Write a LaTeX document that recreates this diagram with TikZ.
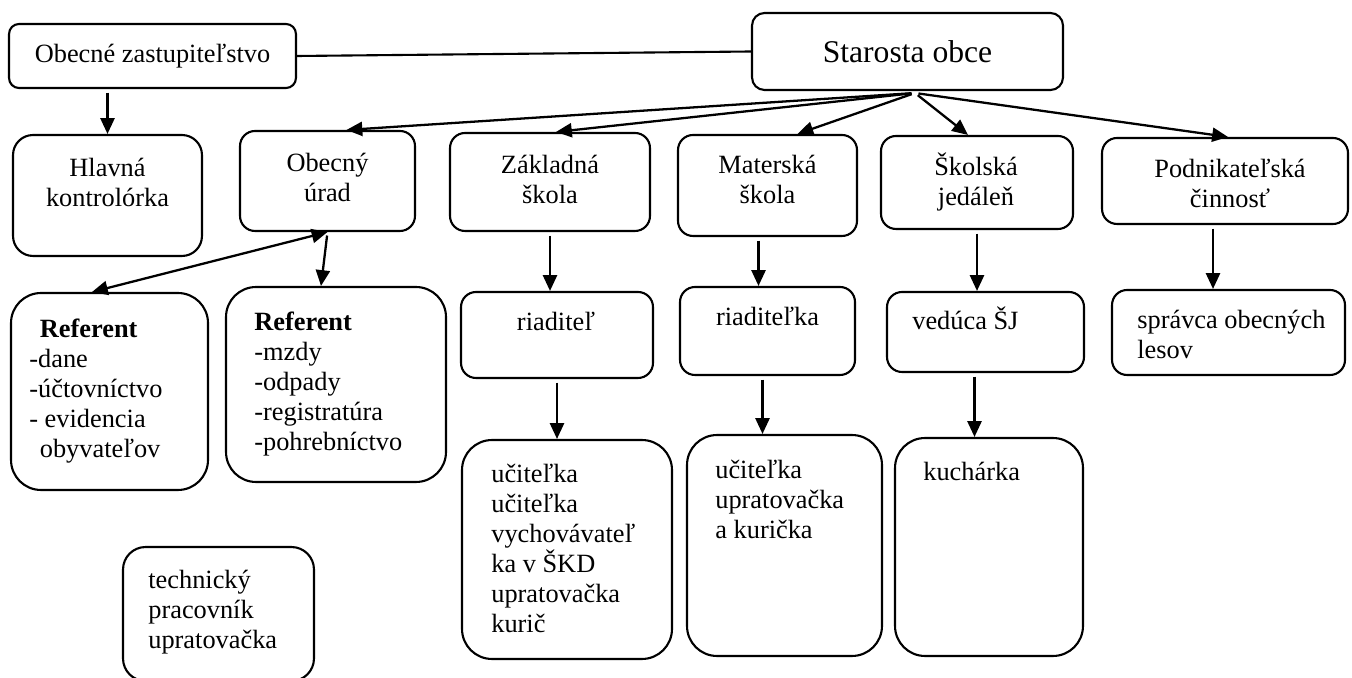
\documentclass[tikz,border=0pt]{standalone}
\usepackage{fontspec}
\setmainfont{Liberation Serif}
\usetikzlibrary{arrows.meta}

\begin{document}
\begin{tikzpicture}
  [x=.02cm,y=-.02cm,
   unit/.style={draw,line width=1.2pt,rounded corners=.3cm,inner sep=0pt},
   big/.style={unit,rounded corners=.6cm},
   txt/.style={inner sep=0pt,font=\fontsize{15}{17}\selectfont},
   arr/.style={line width=1.3pt,-{Triangle[length=9pt,width=8pt]},shorten <=2pt},
   arrboth/.style={line width=1.3pt,{Triangle[length=9pt,width=8pt]}-{Triangle[length=9pt,width=8pt]}}]
  \useasboundingbox (0,0) rectangle (1352,678);

  % top level
  \node[unit,txt,rounded corners=.2cm,minimum width=5.74cm,minimum height=1.28cm] (zastup) at (152.5,56) {Obecné zastupiteľstvo};
  \node[unit,rounded corners=.25cm,minimum width=6.22cm,minimum height=1.54cm,font=\fontsize{18}{21}\selectfont] (starosta) at (907.5,51.5) {Starosta obce};
  \coordinate (hub) at (915,93);

  % second row
  \node[unit,rounded corners=.4cm,minimum width=3.78cm,minimum height=2.42cm] (hlavna) at (107.5,195.5) {};
  \node[unit,minimum width=3.5cm,minimum height=2cm] (obecny) at (327.5,181) {};
  \node[unit,minimum width=4cm,minimum height=1.96cm] (zakladna) at (550,182) {};
  \node[unit,minimum width=3.58cm,minimum height=2.02cm] (materska) at (767.5,185.5) {};
  \node[unit,minimum width=3.84cm,minimum height=1.86cm] (skolska) at (977,182.5) {};
  \node[unit,minimum width=4.92cm,minimum height=1.72cm] (podnik) at (1225,181) {};

  \node[txt,anchor=north,align=center] (hlavnaT) at (107.5,158) {Hlavná\\kontrolórka};
  \node[txt,anchor=north,align=center] (obecnyT) at (327.5,153) {Obecný\\úrad};
  \node[txt,anchor=north,align=center] (zakladnaT) at (550,155) {Základná\\škola};
  \node[txt,anchor=north,align=center] (materskaT) at (767.5,155) {Materská\\škola};
  \node[txt,anchor=north,align=center] (skolskaT) at (976,153) {Školská\\jedáleň};
  \node[txt,anchor=north,align=center] (podnikT) at (1230,159) {Podnikateľská\\činnosť};

  % third row
  \node[big,minimum width=3.94cm,minimum height=3.94cm] (ref1) at (109.5,391.5) {};
  \node[big,minimum width=4.4cm,minimum height=3.9cm] (ref2) at (336,384.5) {};
  \node[unit,minimum width=3.84cm,minimum height=1.72cm] (riaditel) at (557,335) {};
  \node[unit,minimum width=3.5cm,minimum height=1.76cm] (riaditelka) at (767.5,331) {};
  \node[unit,minimum width=3.94cm,minimum height=1.6cm] (veduca) at (985.5,332) {};
  \node[unit,minimum width=4.66cm,minimum height=1.7cm] (spravca) at (1228.5,332.5) {};

  \node[txt,anchor=north west,align=left] (ref1T) at (29,319)
    {\hspace*{.4em}\textbf{Referent}\\-dane\\-účtovníctvo\\- evidencia\\\hspace*{.4em}obyvateľov};
  \node[txt,anchor=north west,align=left] (ref2T) at (254,312)
    {\textbf{Referent}\\-mzdy\\-odpady\\-registratúra\\-pohrebníctvo};
  \node[txt,anchor=north] (riaditelT) at (556,312) {riaditeľ};
  \node[txt,anchor=north] (riaditelkaT) at (767.5,307) {riaditeľka};
  \node[txt,anchor=north west] (veducaT) at (912,307) {vedúca ŠJ};
  \node[txt,anchor=north west,align=left] (spravcaT) at (1137,310) {správca obecných\\lesov};

  % staff
  \node[big,minimum width=4.2cm,minimum height=4.38cm] (zsstaff) at (567,549.5) {};
  \node[big,minimum width=3.9cm,minimum height=4.42cm] (msstaff) at (784.5,545.5) {};
  \node[big,minimum width=3.76cm,minimum height=4.36cm] (kucharka) at (989,547) {};
  \node[unit,rounded corners=.45cm,minimum width=3.82cm,minimum height=2.68cm] (technicky) at (218.5,614) {};

  \node[txt,anchor=north west,align=left] (zsstaffT) at (491,464)
    {učiteľka\\učiteľka\\vychovávateľ\\ka v ŠKD\\upratovačka\\kurič};
  \node[txt,anchor=north west,align=left] (msstaffT) at (715,460) {učiteľka\\upratovačka\\a kurička};
  \node[txt,anchor=north west] (kucharkaT) at (923,462) {kuchárka};
  \node[txt,anchor=north west,align=left] (technickyT) at (148,570) {technický\\pracovník\\upratovačka};

  % connections
  \draw[line width=1.2pt] (zastup.east) -- (starosta.west);
  \draw[arr] (zastup.south -| hlavna.north) -- (hlavna.north);
  \foreach \to/\dx in {obecny/.38,zakladna/.12,materska/.6,skolska/-.18,podnik/.06}
    \draw[arr] (hub) -- ([xshift=\dx cm]\to.north);
  \draw[arrboth] ([xshift=-.35cm]ref1.north) -- (obecny.south);
  \draw[arr] (obecny.south) -- ([xshift=-.3cm]ref2.north);
  \draw[arr] (zakladna.south) -- (zakladna.south |- riaditel.north);
  \draw[arr] (riaditel.south) -- (riaditel.south |- zsstaff.north);
  \draw[arr] ([xshift=-.18cm]materska.south) -- ([xshift=-.18cm]materska.south |- riaditelka.north);
  \draw[arr] ([xshift=-.1cm]riaditelka.south) -- ([xshift=-.1cm]riaditelka.south |- msstaff.north);
  \draw[arr] (skolska.south) -- (skolska.south |- veduca.north);
  \draw[arr] ([xshift=-.22cm]veduca.south) -- ([xshift=-.22cm]veduca.south |- kucharka.north);
  \draw[arr] ([xshift=-.24cm]podnik.south) -- ([xshift=-.24cm]podnik.south |- spravca.north);
\end{tikzpicture}
\end{document}
